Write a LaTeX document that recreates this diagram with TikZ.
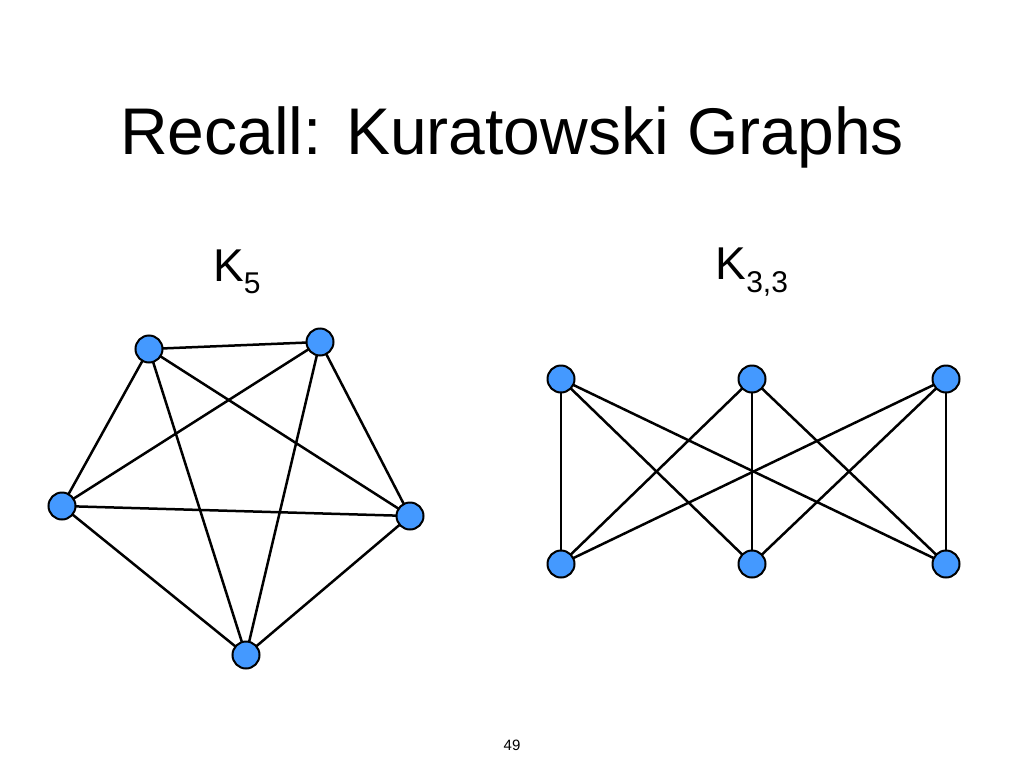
\documentclass[tikz,border=0pt]{standalone}
\usepackage{fontspec}
\setmainfont{Liberation Sans}
\begin{document}
\begin{tikzpicture}[x=1pt,y=-1pt,
  vtx/.style={circle,draw=black,line width=2pt,fill={rgb,255:red,68;green,153;blue,255},minimum size=27pt,inner sep=0pt},
  edge/.style={line width=2.5pt}]
\useasboundingbox (0,0) rectangle (1024,768);
\node (title) at (512,137) {\fontsize{66}{70}\selectfont Recall: Kuratowski Graphs};
\node (lk5) at (237,272) {\fontsize{46}{50}\selectfont K$_{\mbox{\fontsize{30}{32}\selectfont 5}}$};
\node (lk33) at (752,272) {\fontsize{46}{50}\selectfont K$_{\mbox{\fontsize{30}{32}\selectfont 3,3}}$};
\node (pg) at (512,745) {\fontsize{15}{17}\selectfont 49};
\begin{scope}
\coordinate (a) at (149,349); \coordinate (b) at (320,342);
\coordinate (c) at (62,506); \coordinate (d) at (410,516); \coordinate (e) at (246,655);
\foreach \u/\v in {a/b,a/c,a/d,a/e,b/c,b/d,b/e,c/d,c/e,d/e} \draw[edge] (\u)--(\v);
\foreach \p in {a,b,c,d,e} \node[vtx] (n\p) at (\p) {};
\end{scope}
\coordinate (t1) at (561,379); \coordinate (t2) at (752,379); \coordinate (t3) at (946,379);
\coordinate (b1) at (561,564); \coordinate (b2) at (752,564); \coordinate (b3) at (946,564);
\foreach \u in {t1,t2,t3} \foreach \v in {b1,b2,b3} \draw[edge] (\u)--(\v);
\foreach \p in {t1,t2,t3,b1,b2,b3} \node[vtx] (n\p) at (\p) {};
\end{tikzpicture}
\end{document}
